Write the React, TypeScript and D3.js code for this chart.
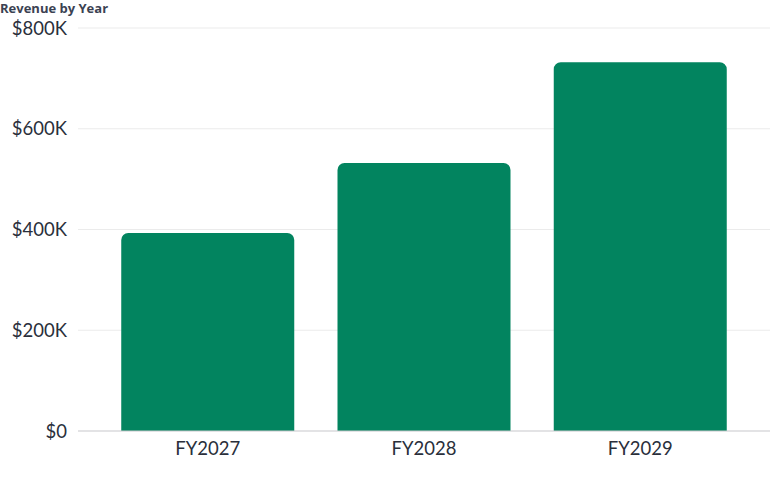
import React from "react";
import * as d3 from "d3";

const categories = ["FY2027", "FY2028", "FY2029"];
const revenue = [393000, 532000, 732000];
const yTicks = [0, 200000, 400000, 600000, 800000];
const title = "Revenue by Year";

const W = 770;
const H = 477;
const margin = { top: 28, right: 0, bottom: 46, left: 78 };
const FONT = "Lato, 'Noto Sans', sans-serif";
const TITLE_FONT = "'Open Sans', 'Noto Sans', sans-serif";

function topRoundedRect(x: number, y: number, w: number, h: number, r: number) {
  const rr = Math.min(r, w / 2, h);
  const p = d3.path();
  p.moveTo(x, y + h);
  p.lineTo(x, y + rr);
  p.arcTo(x, y, x + rr, y, rr);
  p.lineTo(x + w - rr, y);
  p.arcTo(x + w, y, x + w, y + rr, rr);
  p.lineTo(x + w, y + h);
  p.closePath();
  return p.toString();
}

export default function App() {
  const x = d3
    .scaleBand<string>()
    .domain(categories)
    .range([margin.left, W - margin.right])
    .padding(0.2);
  const y = d3
    .scaleLinear()
    .domain([0, 800000])
    .range([H - margin.bottom, margin.top]);
  const fmt = (v: number) => (v === 0 ? "$0" : `$${d3.format("d")(v / 1000)}K`);

  return (
    <svg
      width={W}
      height={H}
      style={{ position: "absolute", left: 0, top: 0, background: "#fff" }}
    >
      <text x={0} y={13} fontFamily={TITLE_FONT} fontSize={13} fontWeight={700} fill="#3b4252">
        {title}
      </text>
      {yTicks.map((t) => (
        <g key={t}>
          {t !== 0 && (
            <line
              x1={margin.left}
              x2={W}
              y1={y(t)}
              y2={y(t)}
              stroke="#ebebeb"
              strokeWidth={1}
            />
          )}
          <text
            x={67}
            y={y(t)}
            dy="0.36em"
            textAnchor="end"
            fontFamily={FONT}
            fontSize={18.5}
            fill="#2a2f3b"
          >
            {fmt(t)}
          </text>
        </g>
      ))}
      {categories.map((c, i) => (
        <path
          key={c}
          d={topRoundedRect(x(c)!, y(revenue[i]), x.bandwidth(), y(0) - y(revenue[i]), 7)}
          fill="#02845f"
        />
      ))}
      <line
        x1={margin.left}
        x2={W}
        y1={y(0)}
        y2={y(0)}
        stroke="#c8c8cc"
        strokeWidth={1.2}
      />
      {categories.map((c) => (
        <text
          key={c}
          x={x(c)! + x.bandwidth() / 2}
          y={y(0) + 24}
          textAnchor="middle"
          fontFamily={FONT}
          fontSize={18.5}
          fill="#2a2f3b"
        >
          {c}
        </text>
      ))}
    </svg>
  );
}
